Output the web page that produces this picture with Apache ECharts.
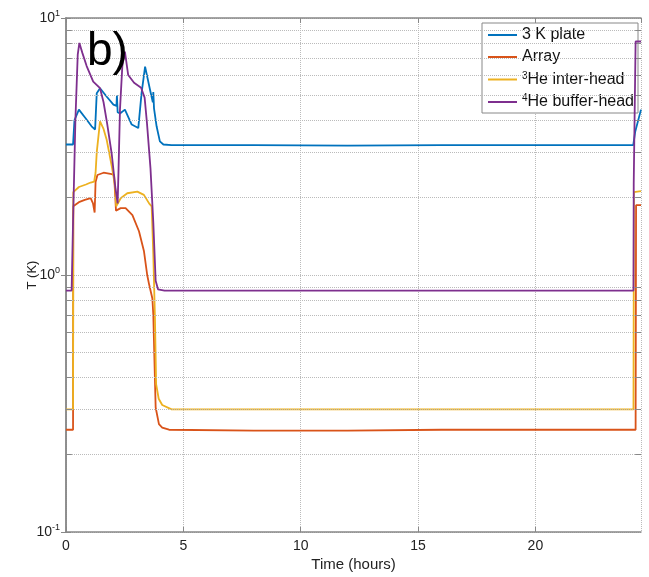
<!DOCTYPE html>
<html>
<head>
<meta charset="utf-8">
<script src="https://cdn.jsdelivr.net/npm/echarts@6/dist/echarts.min.js"></script>
<style>
  html, body { margin: 0; padding: 0; background: #fff; }
  #chart { width: 649px; height: 577px; }
</style>
</head>
<body>
<div id="chart"></div>
<script>
// time in hours, temperature in K
const plateTime = [0, 0.3, 0.36, 0.55, 0.81, 1.09, 1.24, 1.31, 1.45, 1.73, 2.02, 2.15, 2.17, 2.2, 2.3, 2.51, 2.8, 3.08, 3.22, 3.37, 3.58, 3.7, 3.72, 3.75, 3.86, 4.0, 4.15, 4.5, 8, 12, 16, 20, 24.17, 24.25, 24.5]
const plateTemp = [3.22, 3.22, 4.0, 4.4, 4.1, 3.79, 3.68, 5.1, 5.33, 4.95, 4.6, 4.55, 5.0, 4.3, 4.25, 4.4, 3.85, 3.73, 5.1, 6.47, 5.26, 4.7, 5.15, 4.45, 3.79, 3.31, 3.22, 3.2, 3.2, 3.19, 3.2, 3.2, 3.2, 3.6, 4.4]

const arrayTime = [0, 0.3, 0.31, 0.55, 0.8, 1.05, 1.15, 1.22, 1.26, 1.34, 1.6, 1.95, 2.05, 2.13, 2.33, 2.54, 2.83, 3.11, 3.32, 3.46, 3.54, 3.68, 3.72, 3.76, 3.82, 3.96, 4.1, 4.39, 8, 12, 16, 20, 24.27, 24.29, 24.5]
const arrayTemp = [0.25, 0.25, 1.85, 1.92, 1.96, 1.99, 1.9, 1.75, 2.3, 2.45, 2.5, 2.47, 2.45, 1.78, 1.82, 1.82, 1.71, 1.48, 1.24, 1.0, 0.92, 0.81, 0.7, 0.5, 0.305, 0.263, 0.255, 0.25, 0.248, 0.248, 0.25, 0.25, 0.25, 1.87, 1.87]

const he3Time = [0, 0.3, 0.31, 0.55, 0.85, 1.05, 1.2, 1.26, 1.31, 1.45, 1.6, 1.73, 1.95, 2.09, 2.14, 2.33, 2.61, 3.04, 3.32, 3.54, 3.65, 3.72, 3.79, 3.84, 3.95, 4.1, 4.5, 10, 15, 20, 24.18, 24.2, 24.5]
const he3Temp = [0.3, 0.3, 2.1, 2.2, 2.25, 2.29, 2.31, 2.5, 3.0, 3.96, 3.7, 3.37, 2.65, 2.22, 1.85, 1.99, 2.08, 2.11, 2.05, 1.9, 1.85, 1.2, 0.68, 0.376, 0.33, 0.312, 0.3, 0.3, 0.3, 0.3, 0.3, 2.1, 2.12]

const he4Time = [0, 0.24, 0.3, 0.4, 0.5, 0.57, 0.7, 0.88, 1.16, 1.45, 1.6, 1.75, 1.95, 2.1, 2.2, 2.24, 2.3, 2.4, 2.51, 2.65, 2.9, 3.2, 3.35, 3.45, 3.6, 3.72, 3.82, 3.92, 4.2, 10, 15, 20, 24.18, 24.19, 24.25, 24.27, 24.5]
const he4Temp = [0.87, 0.87, 1.6, 4.0, 7.2, 8.0, 7.3, 6.5, 5.66, 5.33, 4.7, 3.9, 2.95, 2.2, 1.9, 2.6, 4.4, 6.5, 7.4, 6.0, 5.6, 5.35, 4.9, 3.9, 2.6, 1.6, 0.95, 0.88, 0.87, 0.87, 0.87, 0.87, 0.87, 2.27, 2.27, 8.1, 8.1]

const minorTicks = [0.2, 0.3, 0.4, 0.5, 0.6, 0.7, 0.8, 0.9, 2, 3, 4, 5, 6, 7, 8, 9]

const FONT = 'Liberation Sans'
const colorList = ['#0072BD', '#D95319', '#EDB120', '#7E2F8E']

function zip(ts, vs) {
  return ts.map((t, i) => [t, vs[i]])
}

const supLabel = {
  0.1: '10{sup|-1}',
  1: '10{sup|0}',
  10: '10{sup|1}'
}

const gridMarks = minorTicks.map(v => ({ yAxis: v }))
const tickMarks = []
minorTicks.forEach(v => {
  tickMarks.push([{ coord: [0, v] }, { coord: [0.25, v] }])
  tickMarks.push([{ coord: [24.25, v] }, { coord: [24.5, v] }])
})

function lineSeries(name, color, z, data, extra) {
  return Object.assign({
    name: name,
    type: 'line',
    symbol: 'none',
    z: z,
    lineStyle: { width: 1.8, color: color },
    itemStyle: { color: color },
    data: data
  }, extra || {})
}

const chart = echarts.init(document.getElementById('chart'))
chart.setOption({
  animation: false,
  backgroundColor: '#fff',
  textStyle: { fontFamily: FONT },
  grid: { left: 66, right: 8, top: 18, bottom: 42.5 },
  graphic: [{
    type: 'text',
    left: 87,
    top: 29,
    z: 20,
    style: { text: 'b)', font: '46px "Liberation Sans"', fill: '#000' }
  }],
  legend: {
    orient: 'vertical',
    left: 482,
    top: 23,
    padding: [4, 4, 3, 6],
    backgroundColor: '#fff',
    borderColor: '#888',
    borderWidth: 1,
    icon: 'rect',
    itemWidth: 29,
    itemHeight: 2,
    itemGap: 6,
    data: ['3 K plate', 'Array', '3He inter-head', '4He buffer-head'],
    formatter: name => {
      if (name === '3He inter-head') return '{sup|3}{n|He inter-head}'
      if (name === '4He buffer-head') return '{sup|4}{n|He buffer-head}'
      return '{n|' + name + '}'
    },
    textStyle: {
      fontFamily: FONT,
      fontSize: 16,
      color: '#111',
      rich: {
        n: { fontSize: 16, fontFamily: FONT, color: '#111' },
        sup: { fontSize: 10, fontFamily: FONT, color: '#111', verticalAlign: 'bottom', padding: [0, 0, 7, 0] }
      }
    }
  },
  xAxis: [{
    type: 'value',
    min: 0,
    max: 24.5,
    interval: 5,
    name: 'Time (hours)',
    nameLocation: 'middle',
    nameGap: 25,
    nameMoveOverlap: false,
    nameTextStyle: { fontFamily: FONT, fontSize: 15, color: '#222' },
    axisLine: { lineStyle: { color: '#888', width: 1.5 } },
    axisTick: { inside: true, length: 5, lineStyle: { color: '#888' } },
    axisLabel: { fontFamily: FONT, fontSize: 14, color: '#222', margin: 7, showMaxLabel: false },
    splitLine: { show: true, lineStyle: { color: '#bbb', type: 'dotted', width: 1 } }
  }, {
    type: 'value',
    position: 'top',
    min: 0,
    max: 24.5,
    interval: 5,
    axisLine: { lineStyle: { color: '#888', width: 1.5 } },
    axisTick: { inside: true, length: 5, lineStyle: { color: '#888' } },
    axisLabel: { show: false },
    splitLine: { show: false }
  }],
  yAxis: [{
    type: 'log',
    logBase: 10,
    min: 0.1,
    max: 10,
    name: 'T (K)',
    nameLocation: 'middle',
    nameGap: 27,
    nameMoveOverlap: false,
    nameRotate: 90,
    nameTextStyle: { fontFamily: FONT, fontSize: 13, color: '#222' },
    axisLine: { show: true, lineStyle: { color: '#888', width: 1.5 } },
    axisTick: { inside: true, length: 5, lineStyle: { color: '#888' } },
    axisLabel: {
      fontFamily: FONT,
      fontSize: 14,
      color: '#222',
      margin: 6,
      formatter: v => supLabel[Math.round(v * 10) / 10] || '',
      rich: {
        sup: { fontSize: 9, fontFamily: FONT, color: '#222', verticalAlign: 'bottom', padding: [0, 0, 8, 0] }
      }
    },
    splitLine: { show: true, lineStyle: { color: '#bbb', type: 'dotted', width: 1 } }
  }, {
    type: 'log',
    logBase: 10,
    min: 0.1,
    max: 10,
    position: 'right',
    axisLine: { show: true, lineStyle: { color: '#888', width: 1.5 } },
    axisTick: { inside: true, length: 5, lineStyle: { color: '#888' } },
    axisLabel: { show: false },
    splitLine: { show: false }
  }],
  series: [
    lineSeries('3 K plate', colorList[0], 2, zip(plateTime, plateTemp), {
      markLine: {
        silent: true,
        symbol: 'none',
        label: { show: false },
        animation: false,
        lineStyle: { color: '#bbb', type: 'dotted', width: 1 },
        data: gridMarks
      }
    }),
    lineSeries('Array', colorList[1], 3, zip(arrayTime, arrayTemp), {
      markLine: {
        silent: true,
        symbol: 'none',
        label: { show: false },
        animation: false,
        lineStyle: { color: '#888', type: 'solid', width: 1 },
        data: tickMarks
      }
    }),
    lineSeries('3He inter-head', colorList[2], 4, zip(he3Time, he3Temp)),
    lineSeries('4He buffer-head', colorList[3], 5, zip(he4Time, he4Temp))
  ]
})
</script>
</body>
</html>
